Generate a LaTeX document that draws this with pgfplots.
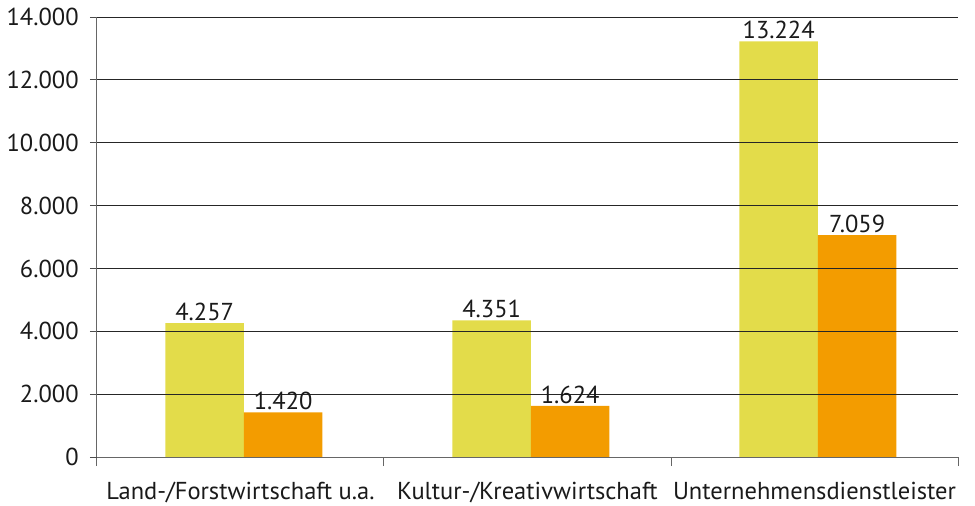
\documentclass[border=0pt]{standalone}
\usepackage{pgfplots}
\pgfplotsset{compat=1.18}
\usepackage{fontspec}
\setmainfont{PT Sans}
\definecolor{cyel}{HTML}{E3DC4A}
\definecolor{corg}{HTML}{F39C00}
\definecolor{txt}{HTML}{1A1A1A}
\begin{document}
\fontsize{24.5}{28}\selectfont
\begin{tikzpicture}
\begin{axis}[
  at={(0,0)}, anchor=origin,
  scale only axis,
  width=861pt, height=440pt,
  xmin=-0.5, xmax=2.5,
  ymin=0, ymax=14000,
  ytick={0,2000,...,14000},
  scaled y ticks=false,
  xtick={0,1,2},
  xticklabels={Land-/Forstwirtschaft u.a.,Kultur-/Kreativwirtschaft,Unternehmensdienstleister},
  minor xtick={-0.5,0.5,1.5,2.5},
  axis x line=bottom, axis y line=left,
  axis line style={-, draw=black!60, line width=1pt},
  tick align=outside,
  major tick length=7pt,
  minor tick length=9pt,
  xtick style={draw=none},
  minor x tick style={draw=black!60, line width=1pt},
  ytick style={draw=black!70, line width=0.8pt},
  ymajorgrids,
  grid style={black!85, line width=0.8pt},
  axis on top,
  ybar=0pt,
  bar width=78.5pt,
  yticklabel={\pgfmathprintnumber[fixed,precision=0,1000 sep={.},assume math mode=true]{\tick}},
  ticklabel style={font=\fontsize{24.5}{28}\selectfont, text=txt},
  xticklabel style={yshift=-10pt},
  yticklabel style={xshift=-3pt},
  nodes near coords,
  nodes near coords style={font=\fontsize{24.5}{28}\selectfont, text=txt, inner sep=2pt, /pgf/number format/.cd, fixed, precision=0, 1000 sep={.}, assume math mode=true},
]
\addplot[fill=cyel, draw=none] coordinates {(0.012,4257) (1.012,4351) (2.012,13224)};
\addplot[fill=corg, draw=none] coordinates {(0.012,1420) (1.012,1624) (2.012,7059)};
\end{axis}
\pgfresetboundingbox
\path (-240.5pt,-49pt) rectangle (734.5pt,457pt);
\end{tikzpicture}
\end{document}
